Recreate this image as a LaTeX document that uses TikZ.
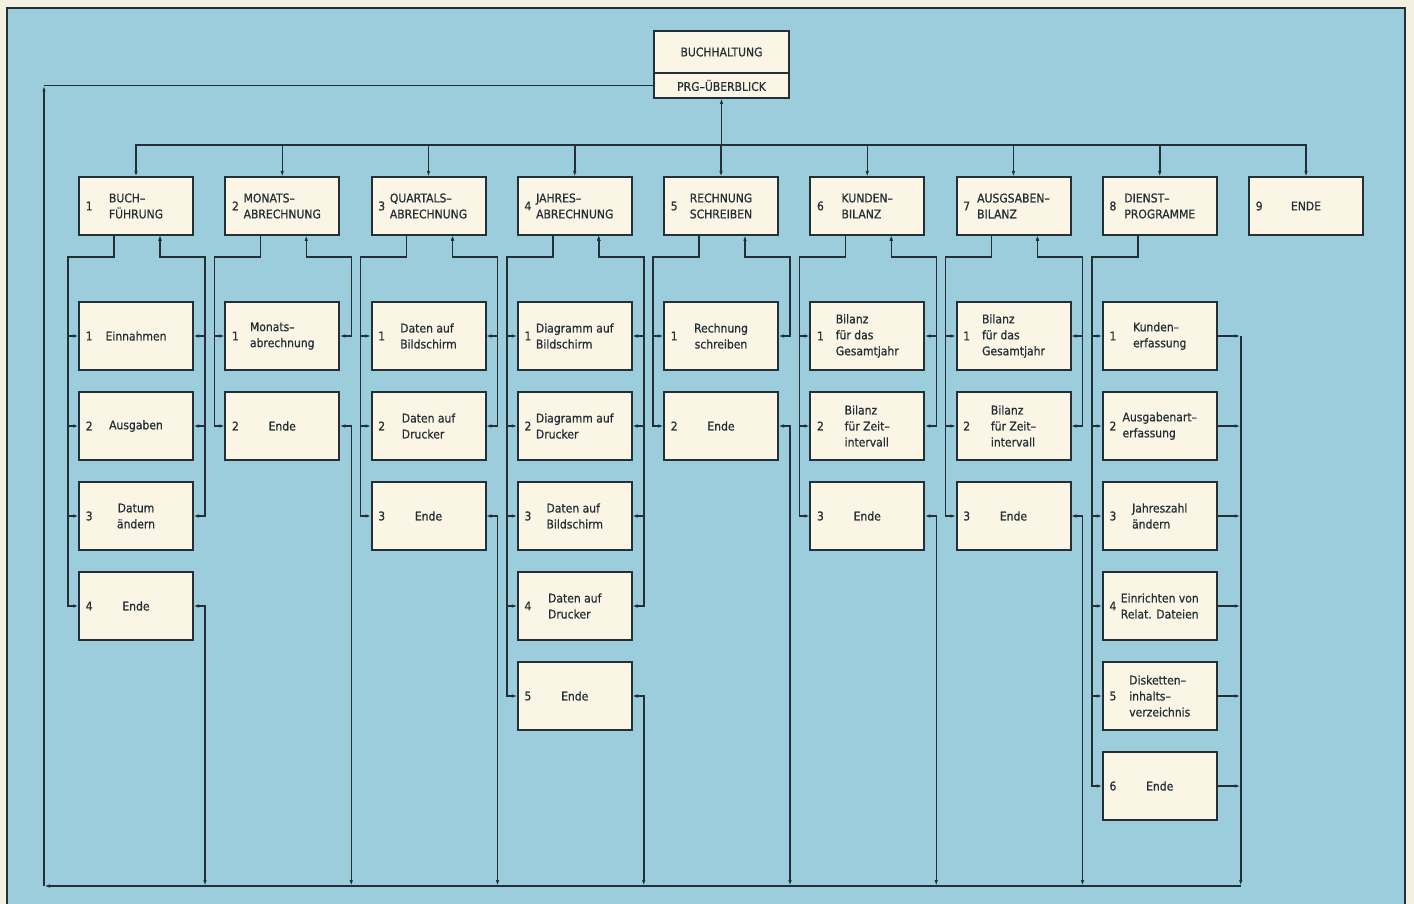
\documentclass[tikz,border=0pt]{standalone}
\usepackage{fontspec}
\setmainfont{DejaVu Sans}[FakeStretch=0.9,FakeBold=0.8]
\usepackage{tikz}
\usetikzlibrary{positioning,arrows.meta}
\definecolor{paper}{RGB}{243,240,226}
\definecolor{panel}{RGB}{155,205,220}
\definecolor{card}{RGB}{251,245,230}
\definecolor{ink}{RGB}{36,48,54}

\begin{document}
\begin{tikzpicture}[x=1pt,y=-1pt,color=ink,
  font=\fontsize{12}{16}\selectfont,
  >={Latex[length=6pt,width=3.5pt]},
  line width=1.5pt,
  head/.style={draw,fill=card,line width=2pt,minimum width=114pt,minimum height=58pt,
    align=left,inner sep=2pt,outer sep=0pt},
  item/.style={head,minimum height=68pt},
  topbox/.style={head,minimum width=135pt,minimum height=42pt,align=center},
  num/.style={label={[anchor=west,xshift=6pt,inner sep=0pt]west:#1}}]
\useasboundingbox (0,0) rectangle (1414,904);
% Hintergrund
\fill[paper] (0,0) rectangle (1414,904);
\fill[panel] (7,8) rectangle (1405,904);
\draw[line width=2pt] (7,904) -- (7,8) -- (1405,8) -- (1405,904);

% Kopf
\node[topbox] (buchh) at (721.5,52) {BUCHHALTUNG};
\node[topbox,minimum height=25pt,below=0pt of buchh] (prg) {PRG–ÜBERBLICK};

% Hauptmenue
\node[head,num=1] (buch) at (136,206) {BUCH–\\FÜHRUNG};
\node[head,num=2,right=32.25pt of buch] (monat) {MONATS–\\ABRECHNUNG};
\node[head,num=3,right=32.25pt of monat] (quartal) {QUARTALS–\\ABRECHNUNG};
\node[head,num=4,right=32.25pt of quartal] (jahr) {JAHRES–\\ABRECHNUNG};
\node[head,num=5,right=32.25pt of jahr] (rechn) {RECHNUNG\\SCHREIBEN};
\node[head,num=6,right=32.25pt of rechn] (kunde) {KUNDEN–\\BILANZ};
\node[head,num=7,right=32.25pt of kunde] (ausg) {AUSGSABEN–\\BILANZ};
\node[head,num=8,right=32.25pt of ausg] (dienst) {DIENST–\\PROGRAMME};
\node[head,num=9,right=32.25pt of dienst] (ende) {ENDE};

% Untermenues
\node[item,num=1,below=67pt of buch] (buch1) {Einnahmen};
\node[item,num=2,below=22pt of buch1] (buch2) {Ausgaben};
\node[item,num=3,below=22pt of buch2,align=center] (buch3) {Datum\\ändern};
\node[item,num=4,below=22pt of buch3] (buch4) {Ende};

\node[item,num=1,below=67pt of monat] (monat1) {Monats–\\abrechnung};
\node[item,num=2,below=22pt of monat1] (monat2) {Ende};

\node[item,num=1,below=67pt of quartal] (quartal1) {Daten auf\\Bildschirm};
\node[item,num=2,below=22pt of quartal1] (quartal2) {Daten auf\\Drucker};
\node[item,num=3,below=22pt of quartal2] (quartal3) {Ende};

\node[item,num=1,below=67pt of jahr] (jahr1) {Diagramm auf\\Bildschirm};
\node[item,num=2,below=22pt of jahr1] (jahr2) {Diagramm auf\\Drucker};
\node[item,num=3,below=22pt of jahr2] (jahr3) {Daten auf\\Bildschirm};
\node[item,num=4,below=22pt of jahr3] (jahr4) {Daten auf\\Drucker};
\node[item,num=5,below=22pt of jahr4] (jahr5) {Ende};

\node[item,num=1,below=67pt of rechn,align=center] (rechn1) {Rechnung\\schreiben};
\node[item,num=2,below=22pt of rechn1] (rechn2) {Ende};

\node[item,num=1,below=67pt of kunde] (kunde1) {Bilanz\\für das\\Gesamtjahr};
\node[item,num=2,below=22pt of kunde1] (kunde2) {Bilanz\\für Zeit–\\intervall};
\node[item,num=3,below=22pt of kunde2] (kunde3) {Ende};

\node[item,num=1,below=67pt of ausg] (ausg1) {Bilanz\\für das\\Gesamtjahr};
\node[item,num=2,below=22pt of ausg1] (ausg2) {Bilanz\\für Zeit–\\intervall};
\node[item,num=3,below=22pt of ausg2] (ausg3) {Ende};

\node[item,num=1,below=67pt of dienst] (dienst1) {Kunden–\\erfassung};
\node[item,num=2,below=22pt of dienst1] (dienst2) {Ausgabenart–\\erfassung};
\node[item,num=3,below=22pt of dienst2] (dienst3) {Jahreszahl\\ändern};
\node[item,num=4,below=22pt of dienst3] (dienst4) {Einrichten von\\Relat. Dateien};
\node[item,num=5,below=22pt of dienst4] (dienst5) {Disketten–\\inhalts–\\verzeichnis};
\node[item,num=6,below=22pt of dienst5] (dienst6) {Ende};

% Ruecksprung-Leitungen
\coordinate (busL) at (44,886);
\coordinate (dbus) at ([xshift=24pt]dienst1.east);

% Verteilung vom Kopf
\draw[->] ([yshift=-47pt]prg.south) -- (prg.south);
\foreach \c in {buch,monat,quartal,jahr,rechn,kunde,ausg,dienst,ende}
  \draw[->] ([yshift=-47pt]prg.south) -| (\c.north);

% links: Auswahl der Untermenues
\foreach \c/\n in {buch/4,monat/2,quartal/3,jahr/5,rechn/2,kunde/3,ausg/3,dienst/6}
  \foreach \k in {1,...,\n}
    \draw[->] ([xshift=-22pt]\c.south) -- ++(0,22) -| ([xshift=-11pt]\c\k.west) -- (\c\k.west);

% rechts: zurueck ins Menue bzw. nach unten
\foreach \c/\n in {buch/4,monat/2,quartal/3,jahr/5,rechn/2,kunde/3,ausg/3}{
  \pgfmathtruncatemacro\m{\n-1}
  \foreach \k in {1,...,\m}
    \draw[<->] (\c\k.east) -- ++(12,0) |- ([shift={(24pt,-22pt)}]\c.south) -- ([xshift=24pt]\c.south);
  \draw[<->] (\c\n.east) -- ++(12,0) coordinate (e) -- (e |- busL);
}
\foreach \k in {1,...,6}
  \draw[->] (dienst\k.east) -- ++(24,0);
\draw[->] (dbus) -- (dbus |- busL);

% Sammelleitung zurueck zum Ueberblick
\draw[->] (dbus |- busL) -- (busL);
\draw[->] (busL) -- (busL |- prg.west);
\draw (busL |- prg.west) -- (prg.west);
\end{tikzpicture}
\end{document}
